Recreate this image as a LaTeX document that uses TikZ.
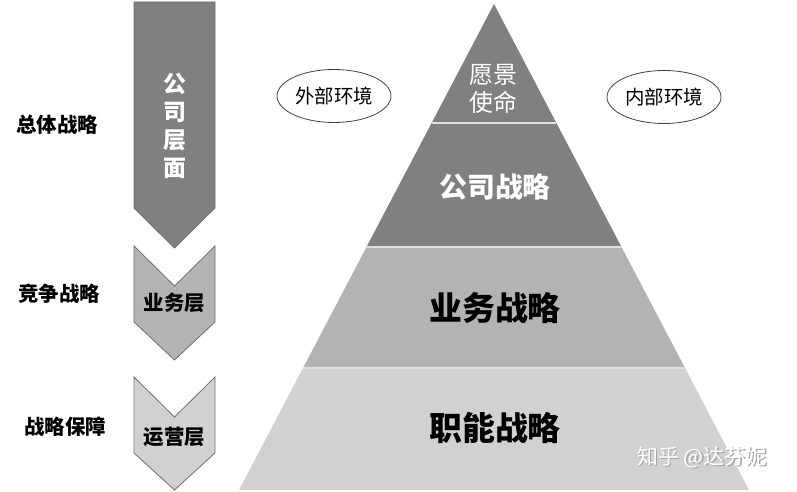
\documentclass[tikz,border=0pt]{standalone}
\usepackage{fontspec}
\usepackage{tikz}
\usetikzlibrary{calc,positioning,shapes.geometric}
\newfontfamily\cjk{Noto Sans CJK SC}
\definecolor{darkgray}{HTML}{808080}
\definecolor{midgray}{HTML}{B3B3B3}
\definecolor{lightgray}{HTML}{D1D1D1}
\definecolor{edgegray}{HTML}{6E6E6E}
\tikzset{
  layer/.style={draw=white!88!black,line width=1.5bp},
  chevron/.style={draw=edgegray,line width=0.8bp},
  envlabel/.style={ellipse,draw=black!75,line width=0.8bp,minimum width=114bp,minimum height=53bp,inner sep=0pt,font=\cjk\fontsize{19.5}{22}\selectfont},
  sidelabel/.style={font=\cjk\bfseries\fontsize{20.5}{24}\selectfont},
}
\begin{document}
\begin{tikzpicture}[x=1bp,y=-1bp]
\useasboundingbox (0,0) rectangle (797,492);
% pyramid corners
\coordinate (apex) at (494,4);
\coordinate (L1) at (431.6,123); \coordinate (R1) at (556.4,123);
\coordinate (L2) at (366.5,247); \coordinate (R2) at (621.5,247);
\coordinate (L3) at (303,368);   \coordinate (R3) at (685,368);
\coordinate (L4) at (239,490);   \coordinate (R4) at (749,490);
\fill [lightgray] (L3) -- (R3) -- (R4) -- (L4) -- cycle;
\fill [midgray] (L2) -- (R2) -- (R3) -- (L3) -- cycle;
\fill [darkgray] (L1) -- (R1) -- (R2) -- (L2) -- cycle;
\fill [darkgray] (apex) -- (R1) -- (L1) -- cycle;
\draw [layer] (L1) -- (R1);
\draw [layer] (L2) -- (R2);
\draw [layer] (L3) -- (R3);
\node [align=center,white,font=\cjk\fontsize{24}{28}\selectfont] (vision) at (493,89) {愿景\\使命};
\node [white,font=\cjk\bfseries\fontsize{28}{32}\selectfont] (corp) at (495,187) {公司战略};
\node [font=\cjk\bfseries\fontsize{33}{36}\selectfont] (busi) at (495,308) {业务战略};
\node [font=\cjk\bfseries\fontsize{33}{36}\selectfont] (func) at (495,428) {职能战略};
%\node [white,font=\cjk\fontsize{21}{24}\selectfont] at (702,457) {知乎 @达芬妮};
\node [text=black!35,font=\cjk\fontsize{21}{24}\selectfont] (markshadow) at (703.5,458.5) {知乎 @达芬妮};
\node [white,font=\cjk\fontsize{21}{24}\selectfont] (mark) at (702,457) {知乎 @达芬妮};
% environment ellipses
\node [envlabel] (outer) at (334,96) {外部环境};
\node [envlabel] (inner) at (664,97) {内部环境};
% left arrows
\draw [chevron,fill=darkgray] (134,2) -- (215,2) -- (215,208) -- (174.5,248) -- (134,208) -- cycle;
\draw [chevron,fill=midgray] (134,246) -- (174.5,286) -- (215,246) -- (215,322) -- (174.5,360) -- (134,322) -- cycle;
\draw [chevron,fill=lightgray] (134,377) -- (174.5,417) -- (215,377) -- (215,453) -- (174.5,490) -- (134,453) -- cycle;
\node [align=center,white,font=\cjk\bfseries\fontsize{23}{28}\selectfont] (corplevel) at (174.5,126) {公\\司\\层\\面};
\node [font=\cjk\bfseries\fontsize{20.5}{24}\selectfont] (busilevel) at (174.5,303) {业务层};
\node [font=\cjk\bfseries\fontsize{20.5}{24}\selectfont] (oplevel) at (174.5,437) {运营层};
% left labels
\node [sidelabel] (overall) at (57,125) {总体战略};
\node [sidelabel] (compete) at (59,294) {竞争战略};
\node [sidelabel] (support) at (65,427) {战略保障};
\end{tikzpicture}
\end{document}
